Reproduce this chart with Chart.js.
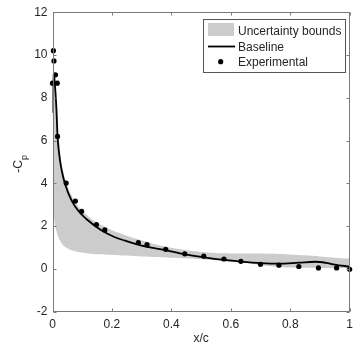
<!DOCTYPE html>
<html><head><meta charset="utf-8">
<script src="https://cdn.jsdelivr.net/npm/chart.js@4.4.0/dist/chart.umd.min.js"></script>
<style>html,body{margin:0;padding:0;background:#fff;} #wrap{width:359px;height:355px;position:relative;}</style>
</head><body><div id="wrap"><canvas id="c" width="359" height="355"></canvas></div>
<script>
// ---- data ----
const xTicks = [0, 0.2, 0.4, 0.6, 0.8, 1];
const yTicks = [-2, 0, 2, 4, 6, 8, 10, 12];

const boundX     = [0, 0.004, 0.008, 0.013, 0.019, 0.027, 0.036, 0.047, 0.058, 0.075, 0.097, 0.125, 0.15, 0.2, 0.25, 0.3, 0.35, 0.4, 0.45, 0.5, 0.55, 0.6, 0.65, 0.7, 0.75, 0.8, 0.85, 0.9, 0.95, 1.0];
const boundUpper = [9.3, 9.4, 8.8, 7.7, 6.5, 5.3, 4.55, 4.0, 3.6, 3.15, 2.75, 2.4, 2.15, 1.8, 1.55, 1.33, 1.14, 0.98, 0.87, 0.79, 0.74, 0.72, 0.72, 0.72, 0.70, 0.67, 0.63, 0.58, 0.52, 0.48];
const boundLower = [3.2, 2.6, 2.1, 1.78, 1.5, 1.28, 1.1, 0.98, 0.9, 0.82, 0.76, 0.71, 0.68, 0.65, 0.62, 0.58, 0.55, 0.52, 0.49, 0.45, 0.4, 0.33, 0.27, 0.18, 0.1, 0.06, 0.05, 0.04, 0.03, 0.03];

const baseX = [0.0005, 0.002, 0.005, 0.008, 0.013, 0.017, 0.025, 0.031, 0.042, 0.064, 0.086, 0.119, 0.164, 0.208, 0.241, 0.3, 0.35, 0.38, 0.445, 0.51, 0.577, 0.635, 0.7, 0.76, 0.83, 0.884, 0.92, 0.95, 1.0];
const baseY = [7.3, 8.7, 9.1, 8.65, 7.55, 6.2, 5.1, 4.6, 3.98, 3.2, 2.73, 2.27, 1.8, 1.49, 1.33, 1.08, 0.95, 0.87, 0.68, 0.54, 0.42, 0.34, 0.27, 0.24, 0.29, 0.33, 0.28, 0.2, 0.1];

const expX = [0.003, 0.005, 0.01, 0.0, 0.016, 0.017, 0.046, 0.077, 0.098, 0.148, 0.176, 0.289, 0.318, 0.381, 0.445, 0.509, 0.577, 0.634, 0.70, 0.762, 0.829, 0.895, 0.956, 1.0];
const expY = [10.2, 9.72, 9.07, 8.68, 8.68, 6.19, 4.01, 3.17, 2.69, 2.07, 1.82, 1.23, 1.13, 0.91, 0.70, 0.59, 0.46, 0.35, 0.21, 0.17, 0.11, 0.04, 0.04, -0.02];

const legendLabels = ['Uncertainty bounds', 'Baseline', 'Experimental'];
const xTitle = 'x/c';
const yTitleMain = '-C';
const yTitleSub = 'p';

// ---- styles ----
const FONT = '"Liberation Sans", Arial, Helvetica, sans-serif';
const TXT = '#262626';
const AX = '#7a7a7a';
const GRAY = '#cccccc';

const zip = (xs, ys) => xs.map((x, i) => ({x: x, y: ys[i]}));

const framePlugin = {
  id: 'frame',
  afterDraw(chart) {
    const ctx = chart.ctx;
    const a = chart.chartArea;
    const xs = chart.scales.x, ys = chart.scales.y;
    ctx.save();
    ctx.strokeStyle = AX;
    ctx.lineWidth = 1;
    const L = Math.round(a.left) + 0.5, R = Math.round(a.right) - 0.5;
    const T = Math.round(a.top) + 0.5, B = Math.round(a.bottom) - 0.5;
    ctx.strokeRect(L, T, R - L, B - T);
    const tl = 3;
    ctx.beginPath();
    xTicks.forEach(v => {
      const px = Math.round(xs.getPixelForValue(v)) + 0.5;
      ctx.moveTo(px, B); ctx.lineTo(px, B - tl);
      ctx.moveTo(px, T); ctx.lineTo(px, T + tl);
    });
    yTicks.forEach(v => {
      const py = Math.round(ys.getPixelForValue(v)) + 0.5;
      ctx.moveTo(L, py); ctx.lineTo(L + tl, py);
      ctx.moveTo(R, py); ctx.lineTo(R - tl, py);
    });
    ctx.stroke();

    // axis titles
    ctx.fillStyle = TXT;
    ctx.font = '12px ' + FONT;
    ctx.textAlign = 'center';
    ctx.textBaseline = 'alphabetic';
    ctx.fillText(xTitle, (a.left + a.right) / 2, 341.5);

    ctx.save();
    ctx.translate(22, (a.top + a.bottom) / 2 + 2);
    ctx.rotate(-Math.PI / 2);
    ctx.font = '12px ' + FONT;
    const w1 = ctx.measureText(yTitleMain).width;
    ctx.font = '9px ' + FONT;
    const w2 = ctx.measureText(yTitleSub).width;
    const start = -(w1 + w2) / 2;
    ctx.textAlign = 'left';
    ctx.font = '12px ' + FONT;
    ctx.fillText(yTitleMain, start, 0);
    ctx.font = '9px ' + FONT;
    ctx.fillText(yTitleSub, start + w1, 4.5);
    ctx.restore();

    // legend
    const bx = 203.5, by = 19.5, bw = 142, bh = 53;
    ctx.fillStyle = '#ffffff';
    ctx.fillRect(bx, by, bw, bh);
    ctx.strokeStyle = '#555555';
    ctx.strokeRect(bx, by, bw, bh);
    ctx.fillStyle = GRAY;
    ctx.fillRect(208, 23, 26, 13);
    ctx.strokeStyle = '#000000';
    ctx.lineWidth = 1.8;
    ctx.beginPath(); ctx.moveTo(208, 46.5); ctx.lineTo(235, 46.5); ctx.stroke();
    ctx.fillStyle = '#000000';
    ctx.beginPath(); ctx.arc(220.7, 61.7, 2.6, 0, Math.PI * 2); ctx.fill();
    ctx.fillStyle = TXT;
    ctx.font = '12px ' + FONT;
    ctx.textAlign = 'left';
    ctx.fillText(legendLabels[0], 238, 34.5);
    ctx.fillText(legendLabels[1], 238, 50.5);
    ctx.fillText(legendLabels[2], 238, 66);
    ctx.restore();
  }
};

new Chart(document.getElementById('c'), {
  type: 'scatter',
  data: {
    datasets: [
      { label: legendLabels[2], data: zip(expX, expY), showLine: false, pointRadius: 2.6, pointHoverRadius: 2.6,
        backgroundColor: '#000', borderColor: '#000', borderWidth: 0, clip: false },
      { label: legendLabels[1], data: zip(baseX, baseY), showLine: true, pointRadius: 0, borderColor: '#000',
        borderWidth: 1.8, cubicInterpolationMode: 'monotone', fill: false },
      { label: 'upper', data: zip(boundX, boundUpper), showLine: true, pointRadius: 0,
        borderColor: 'rgba(0,0,0,0)', borderWidth: 1, backgroundColor: GRAY, fill: '+1', tension: 0.3 },
      { label: 'lower', data: zip(boundX, boundLower), showLine: true, pointRadius: 0,
        borderColor: 'rgba(0,0,0,0)', borderWidth: 1, fill: false, tension: 0.3 }
    ]
  },
  options: {
    responsive: false,
    animation: false,
    events: [],
    layout: { padding: { left: 0, top: 11.5, right: 6, bottom: 0 } },
    plugins: { legend: { display: false }, tooltip: { enabled: false } },
    scales: {
      x: {
        type: 'linear', min: 0, max: 1,
        afterBuildTicks: s => { s.ticks = xTicks.map(v => ({ value: v })); },
        afterFit: s => { s.height = 43.4; },
        grid: { display: false, drawTicks: false },
        border: { display: false },
        ticks: { color: TXT, font: { family: FONT, size: 12 }, padding: 6, maxRotation: 0,
                 callback: v => String(v) }
      },
      y: {
        type: 'linear', min: -2, max: 12,
        afterBuildTicks: s => { s.ticks = yTicks.map(v => ({ value: v })); },
        afterFit: s => { s.width = 52.5; },
        grid: { display: false, drawTicks: false },
        border: { display: false },
        ticks: { color: TXT, font: { family: FONT, size: 12 }, padding: 5,
                 callback: v => String(v) }
      }
    }
  },
  plugins: [framePlugin]
});
</script>
</body></html>
